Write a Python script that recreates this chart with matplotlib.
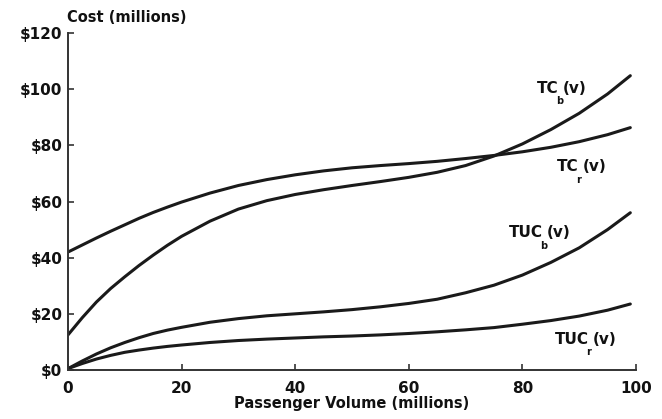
import matplotlib
matplotlib.use("Agg")
import matplotlib.pyplot as plt

plt.rcParams['font.family'] = ['DejaVu Sans']
plt.rcParams['font.weight'] = 'bold'

# Passenger volume (millions)
volume = [0, 2.5, 5, 7.5, 10, 12.5, 15, 17.5, 20, 25, 30, 35, 40, 45, 50, 55, 60, 65, 70, 75, 80, 85, 90, 95, 99]

# Costs ($ millions)
tc_b = [12.5, 18.6, 24.2, 29.0, 33.2, 37.2, 40.9, 44.4, 47.6, 53.0, 57.3, 60.3, 62.5, 64.2, 65.7, 67.1, 68.6, 70.4, 72.8, 76.2, 80.5, 85.6, 91.4, 98.3, 104.8]
tc_r = [42, 44.5, 47, 49.4, 51.7, 54, 56.1, 58, 59.8, 63, 65.7, 67.8, 69.5, 70.9, 72, 72.8, 73.5, 74.3, 75.3, 76.4, 77.7, 79.3, 81.3, 83.8, 86.3]
tuc_b = [0.5, 3.2, 5.7, 7.9, 9.8, 11.5, 13, 14.2, 15.2, 17, 18.3, 19.3, 20, 20.7, 21.5, 22.5, 23.7, 25.2, 27.5, 30.2, 33.8, 38.3, 43.5, 50, 56]
tuc_r = [0.5, 2.3, 3.9, 5.2, 6.3, 7.1, 7.8, 8.4, 8.9, 9.8, 10.5, 11, 11.4, 11.8, 12.1, 12.5, 13, 13.6, 14.3, 15.1, 16.3, 17.6, 19.2, 21.3, 23.5]

x_ticks = [0, 20, 40, 60, 80, 100]
y_ticks = [0, 20, 40, 60, 80, 100, 120]
y_tick_labels = ['$0', '$20', '$40', '$60', '$80', '$100', '$120']

fig = plt.figure(figsize=(6.62, 4.19), dpi=100)
ax = fig.add_axes([68/662, 1-370/419, (636-68)/662, (370-33)/419])

line_kw = dict(color='#1a1a1a', lw=2.2, solid_capstyle='round', solid_joinstyle='round')
for series in (tc_b, tc_r, tuc_b, tuc_r):
    ax.plot(volume, series, **line_kw)

ax.set_xlim(0, 100)
ax.set_ylim(0, 120)
ax.set_xticks(x_ticks)
ax.set_xticklabels([str(t) for t in x_ticks])
ax.set_yticks(y_ticks)
ax.set_yticklabels([s.replace('$', r'\$') for s in y_tick_labels])

for s in ('top', 'right'):
    ax.spines[s].set_visible(False)
for s in ('left', 'bottom'):
    ax.spines[s].set_linewidth(1.4)
    ax.spines[s].set_color('#333333')

ax.tick_params(direction='in', length=4, width=1.2, colors='#333333', labelsize=11,
               labelcolor='#111111')
ax.tick_params(axis='x', pad=8)
ax.tick_params(axis='y', pad=4)

ax.set_xlabel('Passenger Volume (millions)', fontsize=10.5, fontweight='bold',
              color='#111111', labelpad=0)
fig.text(67/662, 1-17/419, 'Cost (millions)', fontsize=10.5, fontweight='bold',
         color='#111111', ha='left', va='center')


def curve_label(x, y, main, sub):
    t = ax.text(x, y, main, fontsize=11, color='#111111', ha='left', va='center')
    ax.annotate(sub, xy=(1, 0), xycoords=t, xytext=(-2, -0.5), textcoords='offset points',
                fontsize=7, color='#111111', ha='left', va='top')
    ax.annotate('(v)', xy=(1, 0), xycoords=t, xytext=(3, 0), textcoords='offset points',
                fontsize=11, color='#111111', ha='left', va='bottom')


curve_label(82.6, 100.4, 'TC', 'b')
curve_label(86.1, 72.5, 'TC', 'r')
curve_label(77.6, 48.9, 'TUC', 'b')
curve_label(85.7, 11, 'TUC', 'r')

fig.savefig('out.png', dpi=100)
